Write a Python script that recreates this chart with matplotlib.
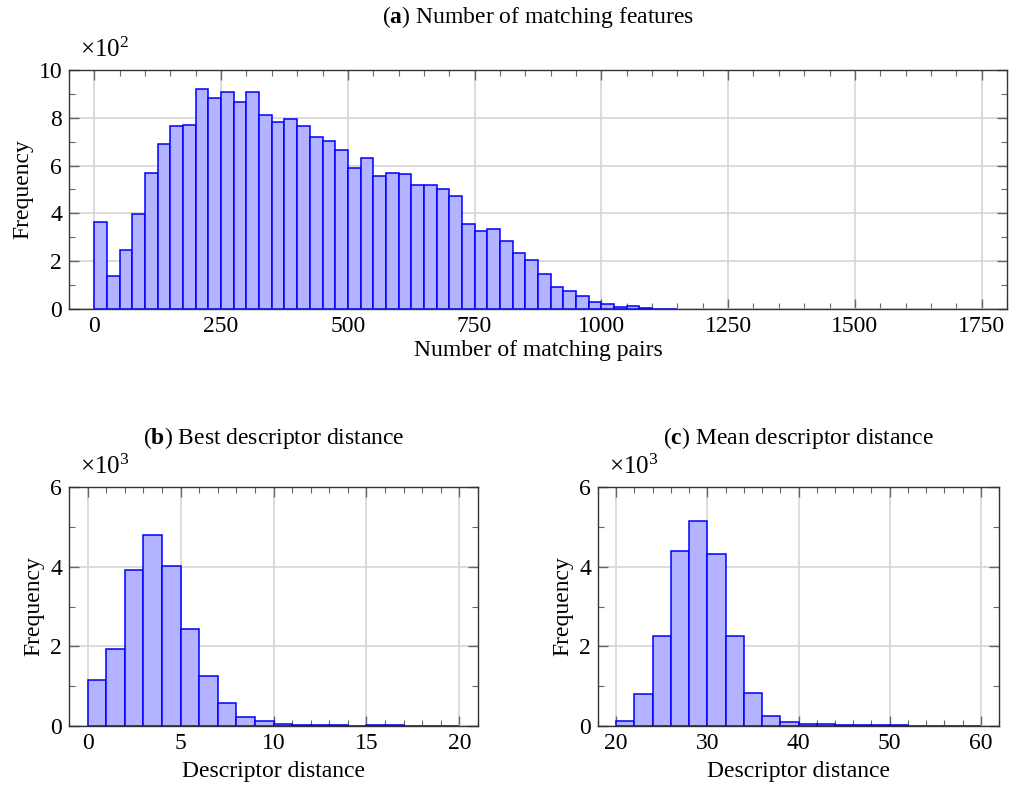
import numpy as np
import matplotlib
matplotlib.use("Agg")
import matplotlib.pyplot as plt
from matplotlib.ticker import MultipleLocator, FuncFormatter
from matplotlib.transforms import offset_copy

plt.rcParams['font.family'] = ['Liberation Serif', 'DejaVu Serif']
plt.rcParams['mathtext.fontset'] = 'custom'
plt.rcParams['mathtext.rm'] = 'Liberation Serif'
plt.rcParams['mathtext.bf'] = 'Liberation Serif:bold'
plt.rcParams['mathtext.it'] = 'Liberation Serif:italic'

# (a) number of matching pairs, bins of 25 starting at 0
pairs_bin = 25
pairs_counts = [364, 140, 246, 398, 568, 689, 766, 769, 921, 883,
                908, 866, 908, 812, 784, 795, 766, 719, 703, 664,
                590, 633, 555, 568, 564, 518, 518, 502, 474, 354,
                327, 333, 285, 234, 205, 148, 92, 75, 54, 29,
                20, 8, 13, 4, 1, 2]

# (b) best descriptor distance, bins of 1 starting at 0
best_bin = 1
best_counts = [1158, 1933, 3925, 4783, 4008, 2425, 1267, 575, 225, 117,
               58, 33, 30, 25, 10, 15, 15, 8, 8, 5]

# (c) mean descriptor distance, bins of 2 starting at 20
mean_bin = 2
mean_start = 20
mean_counts = [125, 808, 2250, 4392, 5158, 4308, 2267, 833, 250, 100,
               42, 42, 33, 25, 25, 17, 8, 8, 5, 5]

FACE = '#b3b3ff'
EDGE = '#0000ff'
GRID = '#d6d6d6'
TICK = '#666666'
FS = 17


def draw_hist(ax, start, width, counts):
    lefts = start + width * np.arange(len(counts))
    ax.bar(lefts, counts, width=width, align='edge', color=FACE,
           edgecolor=EDGE, linewidth=1.1, zorder=3)


def style(ax, xlim, ylim, xmaj, xmin, ymaj, ymin, scale, power):
    ax.set_xlim(*xlim)
    ax.set_ylim(*ylim)
    ax.xaxis.set_major_locator(MultipleLocator(xmaj))
    ax.xaxis.set_minor_locator(MultipleLocator(xmin))
    ax.yaxis.set_major_locator(MultipleLocator(ymaj))
    ax.yaxis.set_minor_locator(MultipleLocator(ymin))
    ax.yaxis.set_major_formatter(FuncFormatter(lambda v, p: f"{v / scale:g}"))
    ax.grid(True, which='major', color=GRID, linewidth=1.2, zorder=0)
    ax.set_axisbelow(True)
    ax.tick_params(which='both', direction='in', top=True, right=True,
                   color=TICK, labelsize=FS, pad=5)
    ax.tick_params(which='major', length=7, width=1.0)
    ax.tick_params(which='minor', length=4, width=0.8)
    for s in ax.spines.values():
        s.set_color('#333333')
        s.set_linewidth(1.0)
        s.set_zorder(4)
    ax.set_ylabel('Frequency', fontsize=FS, labelpad=4)
    tr = offset_copy(ax.transAxes, fig=ax.figure, x=8, y=6, units='points')
    ax.text(0.0, 1.0, r'$\times 10^{%d}$' % power, transform=tr,
            fontsize=FS + 1, ha='left', va='bottom')


fig = plt.figure(figsize=(10.1, 7.87), dpi=100)

W, H = 1010, 787
def box(x0, y0, x1, y1):
    return [x0 / W, 1 - y1 / H, (x1 - x0) / W, (y1 - y0) / H]

ax_a = fig.add_axes(box(69, 70, 1007, 309))
ax_b = fig.add_axes(box(69, 487, 478, 726))
ax_c = fig.add_axes(box(598, 487, 999, 726))

draw_hist(ax_a, 0, pairs_bin, pairs_counts)
style(ax_a, (-50, 1800), (0, 1000), 250, 50, 200, 100, 100, 2)
ax_a.set_xlabel('Number of matching pairs', fontsize=FS, labelpad=2)
ax_a.set_title(r'($\mathbf{a}$) Number of matching features', fontsize=FS, pad=34)

draw_hist(ax_b, 0, best_bin, best_counts)
style(ax_b, (-1, 21), (0, 6000), 5, 1, 2000, 1000, 1000, 3)
ax_b.set_xlabel('Descriptor distance', fontsize=FS, labelpad=5)
ax_b.set_title(r'($\mathbf{b}$) Best descriptor distance', fontsize=FS, pad=31)

draw_hist(ax_c, mean_start, mean_bin, mean_counts)
style(ax_c, (18, 62), (0, 6000), 10, 2, 2000, 1000, 1000, 3)
ax_c.set_xlabel('Descriptor distance', fontsize=FS, labelpad=5)
ax_c.set_title(r'($\mathbf{c}$) Mean descriptor distance', fontsize=FS, pad=31)

fig.savefig('out.png', dpi=100, facecolor='white')
